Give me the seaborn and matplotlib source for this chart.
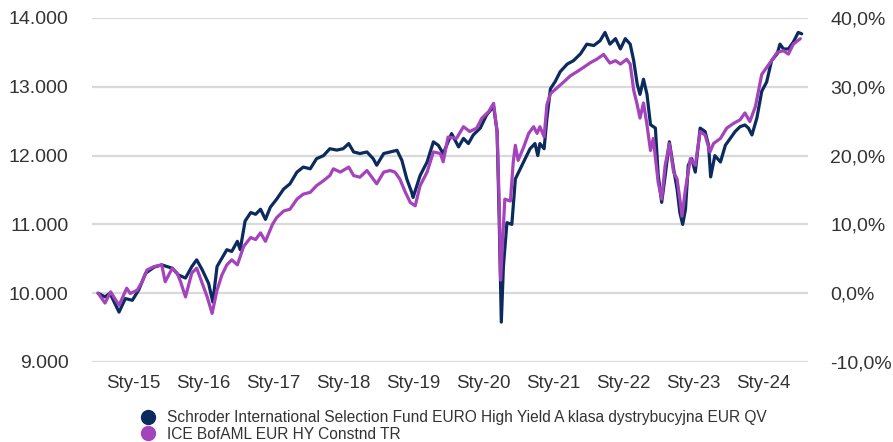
import numpy as np
import pandas as pd
import matplotlib
matplotlib.use("Agg")
import matplotlib.pyplot as plt
import matplotlib.dates as mdates
from matplotlib.ticker import FuncFormatter, FixedLocator
from matplotlib.lines import Line2D
import seaborn as sns

# ---------------- data (decimal years, value of 10 000 invested) ----------------
fund_name = "Schroder International Selection Fund EURO High Yield A klasa dystrybucyjna EUR QV"
index_name = "ICE BofAML EUR HY Constnd TR"

fund_t = [2014.50, 2014.60, 2014.67, 2014.80, 2014.89, 2014.99, 2015.08, 2015.18, 2015.30, 2015.41,
          2015.56, 2015.65, 2015.75, 2015.84, 2015.91, 2015.99, 2016.08, 2016.14, 2016.20, 2016.27,
          2016.34, 2016.41, 2016.49, 2016.53, 2016.60, 2016.68, 2016.75, 2016.82, 2016.89, 2016.96,
          2017.05, 2017.15, 2017.24, 2017.34, 2017.43, 2017.53, 2017.62, 2017.72, 2017.81, 2017.91,
          2018.00, 2018.08, 2018.15, 2018.24, 2018.34, 2018.43, 2018.48, 2018.58, 2018.67, 2018.77,
          2018.84, 2018.91, 2018.98, 2019.00, 2019.10, 2019.20, 2019.29, 2019.36, 2019.43, 2019.48,
          2019.55, 2019.65, 2019.72, 2019.79, 2019.86, 2019.96, 2020.05, 2020.15, 2020.20, 2020.23,
          2020.26, 2020.29, 2020.34, 2020.41, 2020.46, 2020.53, 2020.60, 2020.67, 2020.74, 2020.78,
          2020.81, 2020.87, 2020.91, 2020.96, 2021.03, 2021.10, 2021.20, 2021.29, 2021.39, 2021.48,
          2021.58, 2021.67, 2021.74, 2021.81, 2021.89, 2021.96, 2022.03, 2022.10, 2022.15, 2022.20,
          2022.24, 2022.29, 2022.34, 2022.39, 2022.46, 2022.50, 2022.55, 2022.60, 2022.66, 2022.72,
          2022.77, 2022.81, 2022.85, 2022.89, 2022.93, 2022.98, 2023.03, 2023.10, 2023.17, 2023.22,
          2023.25, 2023.31, 2023.39, 2023.46, 2023.53, 2023.60, 2023.67, 2023.74, 2023.79, 2023.84,
          2023.91, 2023.98, 2024.05, 2024.12, 2024.20, 2024.24, 2024.29, 2024.36, 2024.43, 2024.50,
          2024.55]
fund_v = [10000, 9946, 10000, 9725, 9922, 9897, 10044, 10290, 10378, 10412,
          10363, 10265, 10220, 10387, 10485, 10338, 10142, 9872, 10387, 10510,
          10632, 10607, 10754, 10632, 11048, 11172, 11147, 11220, 11073, 11250,
          11367, 11514, 11590, 11760, 11833, 11808, 11955, 12000, 12100, 12080,
          12100, 12175, 12053, 12030, 12053, 11955, 11860, 12030, 12053, 12077,
          11930, 11660, 11466, 11392, 11710, 11907, 12200, 12150, 12030, 12150,
          12320, 12126, 12250, 12175, 12300, 12400, 12590, 12715, 12350, 11073,
          9580, 10390, 11025, 11000, 11660, 11808, 11955, 12100, 12175, 12000,
          12175, 12100, 12540, 12970, 13080, 13220, 13330, 13380, 13480, 13620,
          13600, 13670, 13790, 13620, 13700, 13550, 13700, 13620, 13380, 13040,
          12890, 13110, 12890, 12450, 12400, 11720, 11320, 11710, 12200, 11808,
          11514, 11170, 11000, 11220, 11860, 11955, 11760, 12400, 12350, 12150,
          11690, 12000, 11907, 12150, 12250, 12350, 12420, 12445, 12400, 12300,
          12545, 12935, 13070, 13380, 13480, 13620, 13550, 13550, 13650, 13790,
          13770]

index_t = [2014.50, 2014.60, 2014.68, 2014.80, 2014.91, 2014.96, 2015.06, 2015.13, 2015.20, 2015.30,
           2015.41, 2015.46, 2015.56, 2015.63, 2015.68, 2015.75, 2015.84, 2015.91, 2015.99, 2016.06,
           2016.13, 2016.20, 2016.27, 2016.34, 2016.41, 2016.49, 2016.58, 2016.68, 2016.75, 2016.82,
           2016.89, 2016.99, 2017.05, 2017.15, 2017.24, 2017.34, 2017.43, 2017.53, 2017.62, 2017.72,
           2017.81, 2017.86, 2017.96, 2018.08, 2018.15, 2018.24, 2018.34, 2018.43, 2018.48, 2018.58,
           2018.67, 2018.74, 2018.81, 2018.89, 2018.96, 2019.03, 2019.10, 2019.20, 2019.29, 2019.39,
           2019.43, 2019.50, 2019.62, 2019.72, 2019.81, 2019.91, 2019.98, 2020.08, 2020.15, 2020.20,
           2020.23, 2020.25, 2020.31, 2020.39, 2020.43, 2020.46, 2020.50, 2020.58, 2020.65, 2020.72,
           2020.77, 2020.81, 2020.87, 2020.91, 2020.96, 2021.05, 2021.15, 2021.24, 2021.34, 2021.43,
           2021.53, 2021.62, 2021.72, 2021.81, 2021.89, 2021.96, 2022.05, 2022.10, 2022.15, 2022.20,
           2022.24, 2022.29, 2022.34, 2022.39, 2022.43, 2022.50, 2022.55, 2022.60, 2022.66, 2022.72,
           2022.77, 2022.81, 2022.84, 2022.89, 2022.96, 2023.03, 2023.10, 2023.17, 2023.24, 2023.29,
           2023.39, 2023.48, 2023.58, 2023.67, 2023.74, 2023.81, 2023.89, 2023.98, 2024.05, 2024.12,
           2024.20, 2024.29, 2024.36, 2024.43, 2024.53]
index_v = [10000, 9857, 10020, 9824, 10073, 9995, 10044, 10166, 10338, 10387,
           10412, 10166, 10363, 10290, 10166, 9946, 10294, 10363, 10142, 9946,
           9706, 10044, 10265, 10412, 10485, 10412, 10681, 10809, 10780, 10877,
           10754, 11000, 11098, 11195, 11220, 11367, 11440, 11466, 11563, 11636,
           11710, 11808, 11760, 11833, 11710, 11686, 11783, 11660, 11590, 11760,
           11783, 11760, 11660, 11466, 11318, 11270, 11563, 11760, 12053, 12030,
           11910, 12270, 12250, 12420, 12350, 12400, 12540, 12640, 12760, 12350,
           11320, 10190, 11367, 11340, 11907, 12150, 11930, 12127, 12323, 12420,
           12323, 12420, 12274, 12740, 12900, 12980, 13070, 13156, 13220, 13280,
           13350, 13400, 13470, 13345, 13380, 13330, 13400, 13330, 12950, 12740,
           12545, 12765, 12445, 12075, 12250, 11610, 11367, 11860, 12175, 11760,
           11660, 11367, 11120, 11514, 11955, 11860, 12350, 12300, 12053, 12175,
           12250, 12400, 12470, 12520, 12620, 12495, 12715, 13180, 13280, 13380,
           13500, 13525, 13475, 13620, 13700]

y_ticks_left = [9000, 10000, 11000, 12000, 13000, 14000]
base_value = 10000
years = list(range(2015, 2025))

# ---------------- helpers ----------------
def to_dates(t):
    t = np.asarray(t, dtype=float)
    yr = np.floor(t).astype(int)
    frac = t - yr
    out = []
    for y, f in zip(yr, frac):
        start = pd.Timestamp(year=int(y), month=1, day=1)
        days = (pd.Timestamp(year=int(y) + 1, month=1, day=1) - start).days
        out.append(start + pd.Timedelta(days=f * days))
    return out

df = pd.concat([
    pd.DataFrame({"date": to_dates(fund_t), "value": fund_v, "series": fund_name}),
    pd.DataFrame({"date": to_dates(index_t), "value": index_v, "series": index_name}),
], ignore_index=True)

navy = "#0B2A5E"
purple = "#A443BC"
palette = {fund_name: navy, index_name: purple}

sns.set_theme(style="white")
plt.rcParams["font.family"] = ["Liberation Sans", "DejaVu Sans"]

fig = plt.figure(figsize=(8.93, 4.42), dpi=100)
ax = fig.add_axes([92 / 893, 1 - 362 / 442, (808 - 92) / 893, (362 - 18) / 442])

sns.lineplot(data=df, x="date", y="value", hue="series", palette=palette,
             hue_order=[fund_name, index_name], estimator=None, sort=False,
             linewidth=2.3, legend=False, ax=ax)

ax.set_ylim(y_ticks_left[0], y_ticks_left[-1])
ax.set_xlim(pd.Timestamp("2014-06-01"), pd.Timestamp("2024-08-22"))
ax.yaxis.set_major_locator(FixedLocator(y_ticks_left))
ax.yaxis.set_major_formatter(FuncFormatter(lambda v, p: f"{v:,.0f}".replace(",", ".")))
ax.xaxis.set_major_locator(FixedLocator([mdates.date2num(pd.Timestamp(year=y, month=1, day=1)) for y in years]))
ax.xaxis.set_major_formatter(FuncFormatter(lambda v, p: "Sty-" + mdates.num2date(v).strftime("%y")))
ax.set_xlabel("")
ax.set_ylabel("")
ax.grid(axis="y", color="#D9D9D9", linewidth=1.6)
ax.grid(axis="x", visible=False)
ax.set_axisbelow(True)
for s in ax.spines.values():
    s.set_visible(False)
ax.tick_params(axis="y", length=0, pad=17, labelsize=14, labelcolor="#333333")
ax.tick_params(axis="x", length=0, pad=9, labelsize=13.5, labelcolor="#333333")

ax2 = ax.twinx()
ax2.set_ylim(y_ticks_left[0] / base_value - 1, y_ticks_left[-1] / base_value - 1)
ax2.yaxis.set_major_locator(FixedLocator([v / base_value - 1 for v in y_ticks_left]))
ax2.yaxis.set_major_formatter(FuncFormatter(lambda v, p: f"{v * 100:.1f}%".replace(".", ",")))
ax2.grid(False)
for s in ax2.spines.values():
    s.set_visible(False)
ax2.tick_params(axis="y", length=0, pad=16, labelsize=14, labelcolor="#333333")

handles = [Line2D([0], [0], marker="o", linestyle="", markersize=10, color=navy),
           Line2D([0], [0], marker="o", linestyle="", markersize=10, color=purple)]
leg = fig.legend(handles, [fund_name, index_name], loc="upper left",
                 bbox_to_anchor=(140 / 893, 1 - 410 / 442), frameon=False,
                 handlelength=1.0, handletextpad=0.75, labelspacing=0.12,
                 borderpad=0, borderaxespad=0,
                 prop={"family": ["Liberation Sans", "DejaVu Sans"], "size": 11.2})
for t in leg.get_texts():
    t.set_color("#333333")

fig.savefig("out.png", dpi=100)
